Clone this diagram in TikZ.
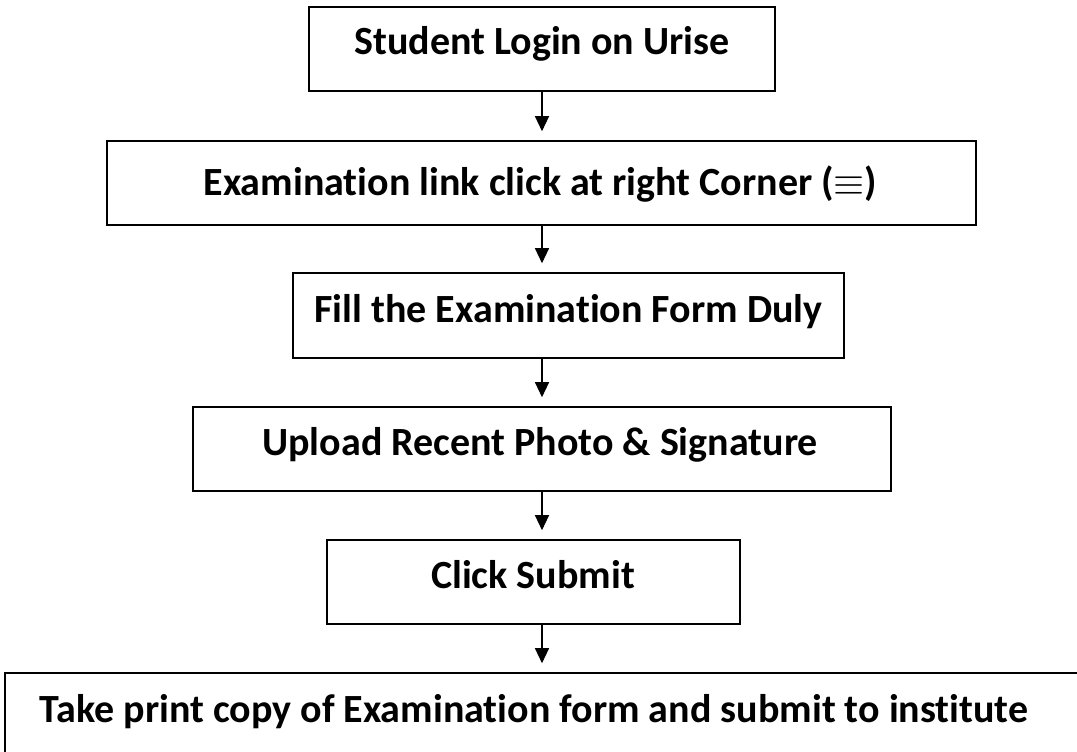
\documentclass[tikz,border=0pt]{standalone}
\usepackage{fontspec}
\setmainfont{Carlito}[Ligatures=NoCommon]
\newfontfamily\mathsym{Latin Modern Math}
\usetikzlibrary{arrows.meta}
\begin{document}
\begin{tikzpicture}[x=1pt,y=-1pt,
  box/.style={draw=black,line width=1.6pt,rectangle,inner sep=0pt,fill=none},
  lbl/.style={anchor=base,inner sep=0pt,font=\fontsize{40}{48}\selectfont\bfseries},
  arr/.style={line width=1.3pt,-{Triangle[length=15pt,width=14pt]},shorten >=9pt}]
\useasboundingbox (0,0) rectangle (1077,752);
\clip (0,0) rectangle (1077,752);
\fill[white] (0,0) rectangle (1077,752);
\coordinate (axis) at (542,0);
% boxes
\node[box,minimum width=466pt,minimum height=84pt] (b1) at (542,49) {};
\node[box,minimum width=869pt,minimum height=84pt] (b2) at (541.5,183) {};
\node[box,minimum width=551pt,minimum height=85pt] (b3) at (568.5,315.5) {};
\node[box,minimum width=698pt,minimum height=84pt] (b4) at (542,449) {};
\node[box,minimum width=413pt,minimum height=84pt] (b5) at (533.5,582) {};
\node[box,minimum width=1120pt,minimum height=110pt] (b6) at (565,728) {};
% texts
\node[lbl] (t1) at (542,55) {Student Login on Urise};
\node[lbl] (t2) at (540.5,195) {Examination link click at right Corner ({\mathsym\mdseries ≡})};
\node[lbl] (t3) at (568.5,322) {Fill the Examination Form Duly};
\node[lbl] (t4) at (540,455) {Upload Recent Photo \& Signature};
\node[lbl] (t5) at (533,588) {Click Submit};
\node[lbl] (t6) at (534,722) {Take print copy of Examination form and submit to institute};
% arrows
\draw[arr] (b1.south -| axis) -- (b2.north -| axis);
\draw[arr] (b2.south -| axis) -- (b3.north -| axis);
\draw[arr] (b3.south -| axis) -- (b4.north -| axis);
\draw[arr] (b4.south -| axis) -- (b5.north -| axis);
\draw[arr] (b5.south -| axis) -- (b6.north -| axis);
\end{tikzpicture}
\end{document}
